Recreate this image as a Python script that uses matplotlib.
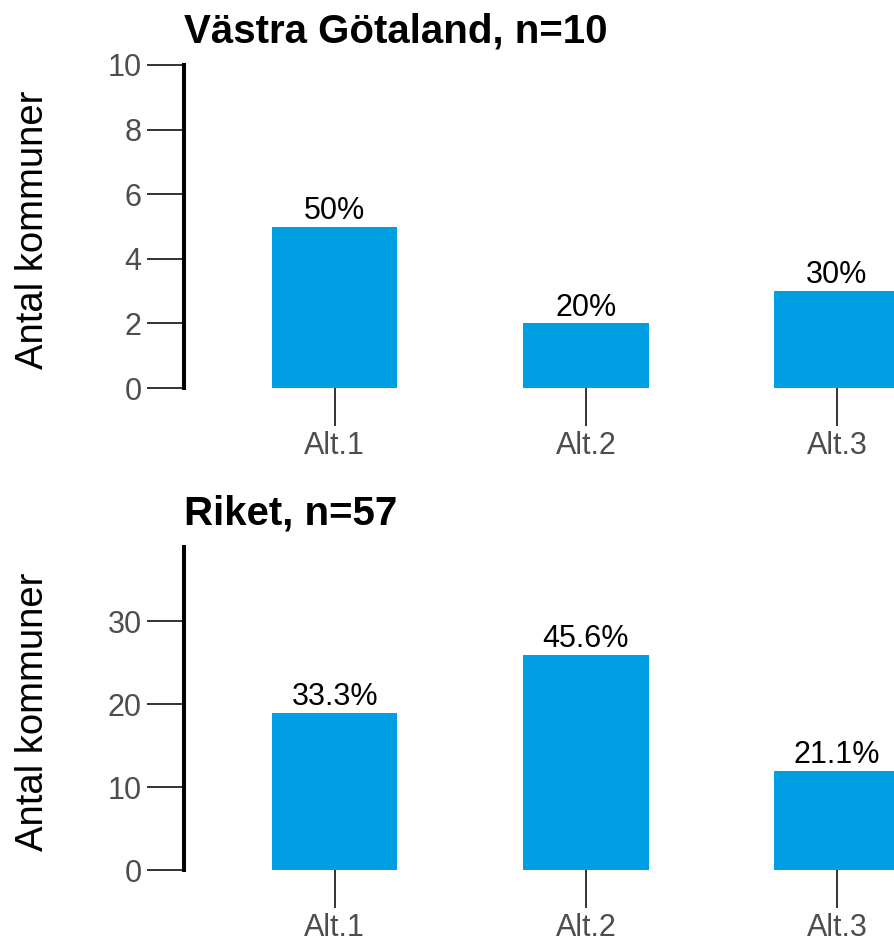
import matplotlib
matplotlib.use('Agg')
import matplotlib.pyplot as plt

plt.rcParams['font.family'] = ['Liberation Sans', 'DejaVu Sans']

categories = ['Alt.1', 'Alt.2', 'Alt.3']
vg_counts = [5, 2, 3]
vg_labels = ['50%', '20%', '30%']
riket_counts = [19, 26, 12]
riket_labels = ['33.3%', '45.6%', '21.1%']

bar_color = '#009fe3'

fig = plt.figure(figsize=(8.94, 9.42), dpi=100)
ax1 = fig.add_axes([0.2058, 0.588, 0.7942, 0.343])
ax2 = fig.add_axes([0.2058, 0.0764, 0.7942, 0.343])


def draw(ax, counts, labels, title, ymax, yticks):
    x = list(range(len(categories)))
    ax.bar(x, counts, width=0.5, color=bar_color)
    for xi, c, lab in zip(x, counts, labels):
        ax.annotate(lab, (xi, c), xytext=(0, 0.5), textcoords='offset points',
                    ha='center', va='bottom', fontsize=22, color='black')
    ax.set_xlim(-0.6, 2.227)
    ax.set_ylim(0, ymax)
    ax.set_xticks(x)
    ax.set_xticklabels(categories)
    ax.set_yticks(yticks)
    for s in ['top', 'right', 'bottom']:
        ax.spines[s].set_visible(False)
    ax.spines['left'].set_linewidth(2.9)
    ax.spines['left'].set_color('black')
    ax.tick_params(axis='both', length=27, width=1.4, color='#333333',
                   labelsize=22, labelcolor='#4d4d4d', pad=3.5)
    ax.tick_params(axis='x', pad=4)
    ax.set_ylabel('Antal kommuner', fontsize=27.5, color='black')
    ax.yaxis.set_label_coords(-0.187, 0.49)
    ax.set_title(title, loc='left', fontsize=29, fontweight='bold', pad=16)


draw(ax1, vg_counts, vg_labels, 'Västra Götaland, n=10', 10, [0, 2, 4, 6, 8, 10])
draw(ax2, riket_counts, riket_labels, 'Riket, n=57', 39, [0, 10, 20, 30])

fig.savefig('out.png', dpi=100)
